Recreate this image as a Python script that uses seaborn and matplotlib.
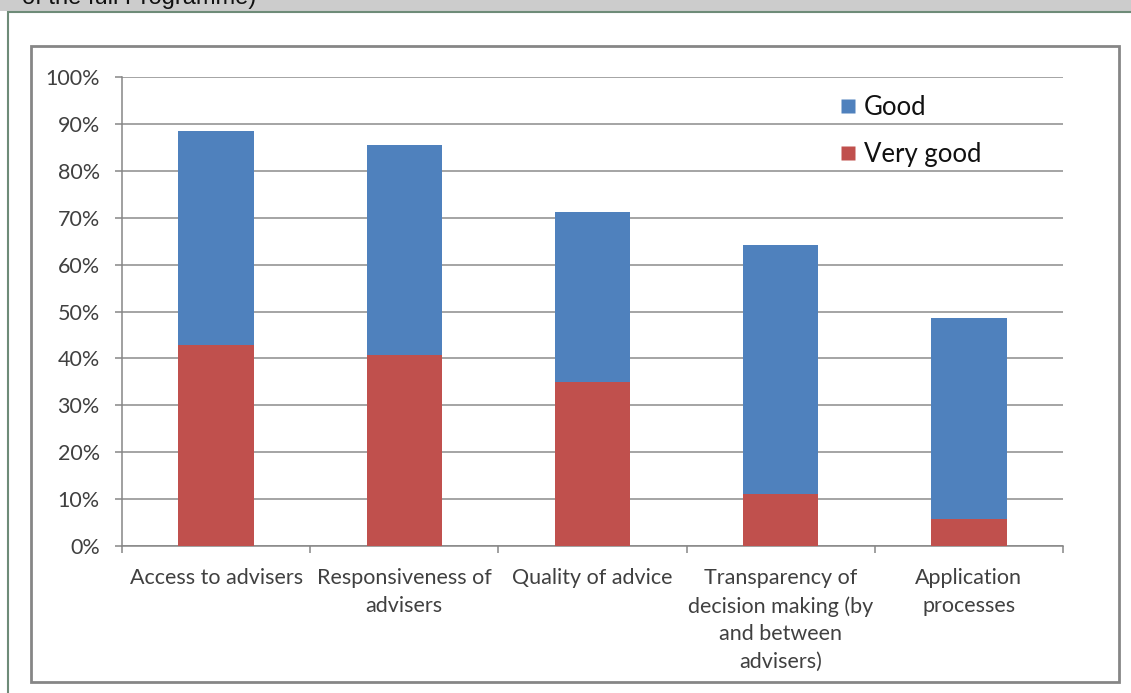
import matplotlib
matplotlib.use("Agg")
import matplotlib.pyplot as plt
from matplotlib.patches import Rectangle
from matplotlib.lines import Line2D
import seaborn as sns
import pandas as pd

# Survey ratings per aspect of the advisory service (% of respondents)
categories = [
    "Access to advisers",
    "Responsiveness of\nadvisers",
    "Quality of advice",
    "Transparency of\ndecision making (by\nand between\nadvisers)",
    "Application\nprocesses",
]
very_good = [42.9, 40.7, 35.0, 11.1, 5.8]
good = [45.6, 44.8, 36.2, 53.1, 42.8]
series_labels = ["Good", "Very good"]
y_ticks = [0, 10, 20, 30, 40, 50, 60, 70, 80, 90, 100]

BLUE = "#4F81BD"
RED = "#C0504D"
TEXT = "#404040"
GRID = "#8C8C8C"

sns.set_theme(style="white")
plt.rcParams["font.family"] = ["Lato", "DejaVu Sans"]

W, H = 1131, 693
fig = plt.figure(figsize=(W / 100, H / 100), dpi=100)

def px_rect(x0, y0, x1, y1, z, **kw):
    # rectangle given in pixel coordinates measured from the top-left corner
    fig.patches.append(Rectangle((x0 / W, 1 - y1 / H), (x1 - x0) / W, (y1 - y0) / H,
                                 transform=fig.transFigure, figure=fig, zorder=z, **kw))

# page band above the chart, with the tail of the caption
px_rect(0, 0, W, 11, -10, facecolor="#CCCCCC", edgecolor="none")
fig.text(22 / W, 1 - 4 / H, "of the full Programme)", fontsize=17,
         family=["Liberation Sans", "DejaVu Sans"], color="#111111",
         ha="left", va="baseline", zorder=-5)
# outer frame (green-grey) and chart border (grey)
px_rect(7.5, 11.5, W + 5, H + 5, -9, facecolor="white", edgecolor="#6E8B78", linewidth=1.5)
px_rect(31, 46, 1119, 682, -8, facecolor="none", edgecolor="#868686", linewidth=2)

ax = fig.add_axes([122 / W, 147 / H, (1063 - 122) / W, (546 - 77) / H])
ax.set_facecolor("none")

df = pd.DataFrame({"category": categories, "very_good": very_good, "good": good})
df["total"] = df["very_good"] + df["good"]

sns.barplot(data=df, x="category", y="total", color=BLUE, width=0.4,
            saturation=1, ax=ax, zorder=3, edgecolor="none")
sns.barplot(data=df, x="category", y="very_good", color=RED, width=0.4,
            saturation=1, ax=ax, zorder=4, edgecolor="none")

ax.set_xlim(-0.5, len(categories) - 0.5)
ax.set_ylim(0, 100)
ax.set_yticks(y_ticks)
ax.set_yticklabels([f"{v}%" for v in y_ticks])
ax.yaxis.grid(True, color=GRID, linewidth=1.1, zorder=0)
ax.set_axisbelow(True)
ax.set_xlabel("")
ax.set_ylabel("")

for side in ["top", "right"]:
    ax.spines[side].set_visible(False)
for side in ["left", "bottom"]:
    ax.spines[side].set_color("#868686")
    ax.spines[side].set_linewidth(1.1)

ax.tick_params(axis="y", which="major", left=True, length=5, width=1.1,
               color="#868686", direction="out", pad=11, labelsize=15.5, labelcolor=TEXT)
# category labels centred under the bars, tick marks between categories
ax.set_xticks(range(len(categories)))
ax.set_xticklabels(categories, linespacing=1.48)
ax.tick_params(axis="x", which="major", bottom=False, length=0, pad=16,
               labelsize=15.5, labelcolor=TEXT)
ax.set_xticks([i - 0.5 for i in range(len(categories) + 1)], minor=True)
ax.tick_params(axis="x", which="minor", bottom=True, length=5, width=1.1,
               color="#868686", direction="out")
for lbl in ax.get_xticklabels():
    lbl.set_va("top")
    lbl.set_ha("center")
    lbl.set_multialignment("center")

handles = [
    Line2D([], [], marker="s", linestyle="none", markersize=10,
           markerfacecolor=BLUE, markeredgecolor="none"),
    Line2D([], [], marker="s", linestyle="none", markersize=10,
           markerfacecolor=RED, markeredgecolor="none"),
]
ax.legend(handles, series_labels, loc="upper left", bbox_to_anchor=(0.735, 1.01),
          frameon=False, fontsize=18.5, labelspacing=0.85, handletextpad=0.15,
          handlelength=0.9, labelcolor="#111111")

fig.savefig("out.png", dpi=100)
